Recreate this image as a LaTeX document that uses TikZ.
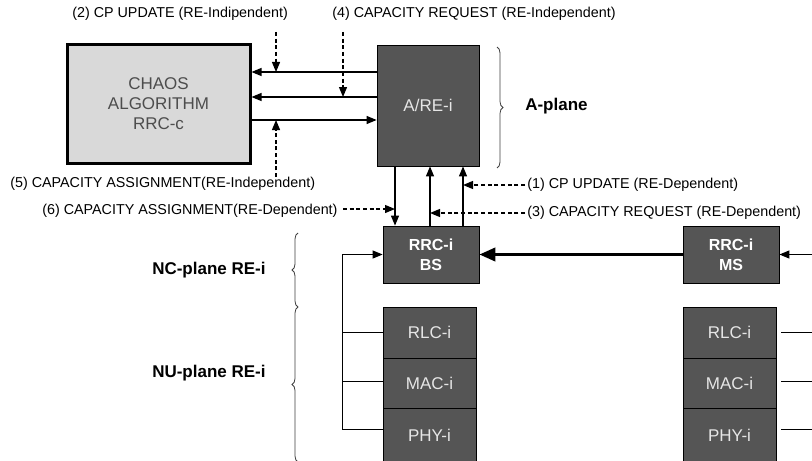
\documentclass[tikz,border=0pt]{standalone}
\usepackage{fontspec}
\setmainfont{Liberation Sans}
\usetikzlibrary{arrows.meta,decorations.pathreplacing}
\definecolor{boxgray}{HTML}{555555}
\definecolor{boxtext}{HTML}{E6E6E6}
\definecolor{chaosfill}{HTML}{D9D9D9}
\definecolor{chaostext}{HTML}{4D4D4D}
\begin{document}
\begin{tikzpicture}[x=0.75pt,y=-0.75pt,
  lbl/.style={anchor=west,inner sep=0pt,font=\fontsize{10.75}{12}\selectfont},
  plane/.style={anchor=west,inner sep=0pt,font=\bfseries\fontsize{12.75}{15}\selectfont},
  darkbox/.style={draw=black,fill=boxgray,text=boxtext,inner sep=0pt,line width=0.6pt,font=\fontsize{12.75}{15}\selectfont,align=center},
  boldbox/.style={darkbox,text=white,font=\bfseries\fontsize{12}{15}\selectfont},
  arr/.style={-{Triangle[length=7.5pt,width=6pt]},line width=0.9pt},
  darr/.style={arr,dash pattern=on 3pt off 2pt},
  thin line/.style={line width=0.75pt},
  brc/.style={decorate,decoration={brace,amplitude=4.5pt},line width=0.6pt,draw=black!75}
]
\clip (0,0) rectangle (812,460);
\fill[white] (0,0) rectangle (812,460);

% boxes
\node[draw=black,fill=chaosfill,text=chaostext,line width=2.25pt,inner sep=0pt,
      minimum width=137.25pt,minimum height=88.5pt,align=center,
      font=\fontsize{12.75}{15}\selectfont] (chaos) at (158.5,104) {CHAOS\\ALGORITHM\\RRC-c};
\node[darkbox,minimum width=76.5pt,minimum height=90.75pt] (are) at (428,105.5) {A/RE-i};
\node[boldbox,minimum width=72pt,minimum height=42.75pt] (bs) at (431,254.5) {RRC-i\\BS};
\node[boldbox,minimum width=72pt,minimum height=42.75pt] (ms) at (731,254.5) {RRC-i\\MS};
\node[darkbox,minimum width=69.75pt,minimum height=38.25pt] (rlcB) at (429.5,332.5) {RLC-i};
\node[darkbox,minimum width=69.75pt,minimum height=37.5pt] (macB) at (429.5,383) {MAC-i};
\node[darkbox,minimum width=69.75pt,minimum height=40.5pt] (phyB) at (429.5,435) {PHY-i};
\node[darkbox,minimum width=69.75pt,minimum height=38.25pt] (rlcM) at (729.5,332.5) {RLC-i};
\node[darkbox,minimum width=69.75pt,minimum height=37.5pt] (macM) at (729.5,383) {MAC-i};
\node[darkbox,minimum width=69.75pt,minimum height=40.5pt] (phyM) at (729.5,435) {PHY-i};

% labels
\node[lbl] (l2) at (72,14) {(2) CP UPDATE (RE-Indipendent)};
\node[lbl] (l4) at (332,14) {(4) CAPACITY REQUEST (RE-Independent)};
\node[lbl] (l5) at (10,184) {(5) CAPACITY ASSIGNMENT(RE-Independent)};
\node[lbl] (l6) at (42,211) {(6) CAPACITY ASSIGNMENT(RE-Dependent)};
\node[lbl] (l1) at (527,185) {(1) CP UPDATE (RE-Dependent)};
\node[lbl] (l3) at (527,213) {(3) CAPACITY REQUEST (RE-Dependent)};
\node[plane] (pa) at (525,106) {A-plane};
\node[plane] (pnc) at (152,270) {NC-plane RE-i};
\node[plane] (pnu) at (152,373) {NU-plane RE-i};

% helper coordinates
\coordinate (y1) at (0,72);
\coordinate (y2) at (0,97);
\coordinate (y3) at (0,120);
\coordinate (xa) at (395,0);
\coordinate (xb) at (430,0);
\coordinate (xc) at (463,0);
\coordinate (xf) at (342,0);
\coordinate (xr) at (812,0);

% chaos <-> A/RE-i
\draw[arr] (are.west |- y1) -- (chaos.east |- y1);
\draw[arr] (are.west |- y2) -- (chaos.east |- y2);
\draw[arr] (chaos.east |- y3) -- (are.west |- y3);

% dashed independent messages
\coordinate (d2) at (276,32);
\coordinate (d4) at (343,32);
\coordinate (d5) at (276,177);
\draw[darr] (d2) -- (d2 |- y1);
\draw[darr] (d4) -- (d4 |- y2);
\draw[darr] (d5) -- (d5 |- y3);

% A/RE-i <-> RRC-i BS
\draw[arr] (are.south -| xa) -- (bs.north -| xa);
\draw[arr] (bs.north -| xb) -- (are.south -| xb);
\draw[arr] (bs.north -| xc) -- (are.south -| xc);

% dashed dependent messages
\coordinate (d1) at (525,185);
\coordinate (d3) at (525,213);
\coordinate (d6) at (343,209);
\draw[darr] (d1) -- (d1 -| xc);
\draw[darr] (d3) -- (d3 -| xb);
\draw[darr] (d6) -- (d6 -| xa);

% MS -> BS
\draw[line width=2.25pt,-{Triangle[length=12pt,width=10pt]}] (ms.west) -- (bs.east);
\coordinate (re) at (812,254.5);
\draw[arr] (re) -- (ms.east);

% left feedback
\coordinate (pb) at ([yshift=4.5pt]phyB.west);
\draw[arr,line width=0.75pt] (pb) -- (pb -| xf) |- (bs.west);
\draw[thin line] (rlcB.west) -- (rlcB.west -| xf);
\draw[thin line] ([yshift=1.5pt]macB.west) -- ([yshift=1.5pt]macB.west -| xf);

% right lines
\coordinate (pm) at ([yshift=4.5pt]phyM.east);
\draw[thin line] ([xshift=3.75pt]rlcM.east) -- (rlcM.east -| xr);
\draw[thin line] ([xshift=3.75pt,yshift=1.5pt]macM.east) -- ([yshift=1.5pt]macM.east -| xr);
\draw[thin line] ([xshift=3.75pt]pm) -- (pm -| xr);

% braces
\coordinate (ba1) at (497,47);
\coordinate (ba2) at (497,168);
\coordinate (bn1) at (298,233);
\coordinate (bn2) at (298,307);
\coordinate (bn3) at (298,462);
\draw[brc] (ba1) -- (ba2);
\draw[brc] (bn2) -- (bn1);
\draw[brc] (bn3) -- (bn2);
\end{tikzpicture}
\end{document}
